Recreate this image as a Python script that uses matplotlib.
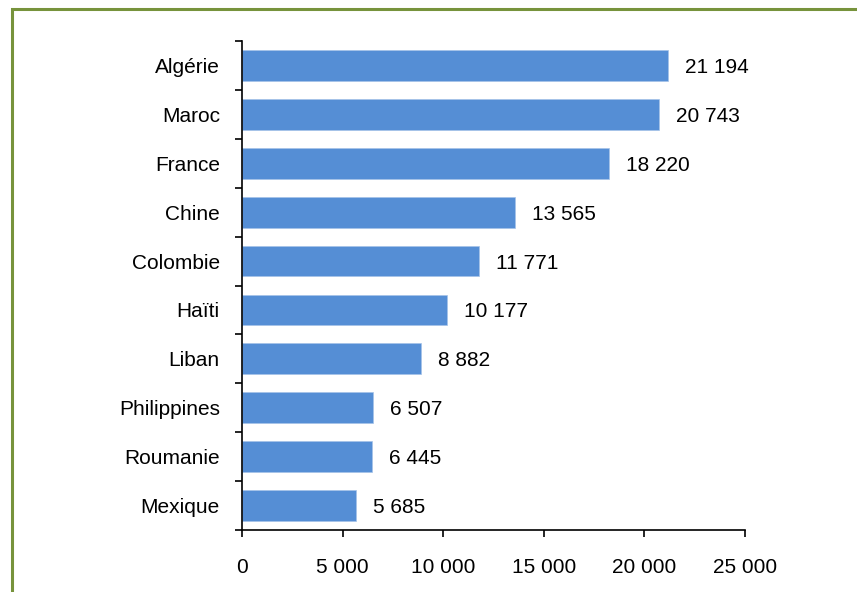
import matplotlib
matplotlib.use("Agg")
import matplotlib.pyplot as plt
from matplotlib.patches import Rectangle
import numpy as np

countries = ["Algérie", "Maroc", "France", "Chine", "Colombie", "Haïti",
             "Liban", "Philippines", "Roumanie", "Mexique"]
values = [21194, 20743, 18220, 13565, 11771, 10177, 8882, 6507, 6445, 5685]
xticks = [0, 5000, 10000, 15000, 20000, 25000]

def fmt(v):
    return f"{v:,}".replace(",", " ")

FS = 15
plt.rcParams['font.family'] = ['Liberation Sans', 'DejaVu Sans']
fig = plt.figure(figsize=(8.57, 5.92), dpi=100)
W, H = 857, 592
ax = fig.add_axes([242 / W, 1 - 530 / H, (745 - 242) / W, (530 - 41) / H])

# border
fig.patches.append(Rectangle((12 / W, -0.1), 1.2, (1 - 9 / H) + 0.1, transform=fig.transFigure,
                             fill=False, edgecolor='#77933C', linewidth=2.2, clip_on=False))

n = len(countries)
pos = np.arange(n)
ax.barh(pos, values, height=0.63, color='#558ED5', edgecolor='#A6C3E8', linewidth=0.5)
ax.set_xlim(0, 25000)
ax.set_ylim(n - 0.5, -0.5)

for p, v in zip(pos, values):
    ax.annotate(fmt(v), (v, p), xytext=(17, -2), textcoords='offset pixels',
                va='center', ha='left', fontsize=FS, color='black')

ax.set_yticks(pos)
ax.set_yticklabels(countries, fontsize=FS)
ax.tick_params(axis='y', which='major', length=0, pad=16)
ax.set_yticks(np.arange(-0.5, n, 1.0), minor=True)
ax.tick_params(axis='y', which='minor', length=5, width=1.2, direction='out')

ax.set_xticks(xticks)
ax.set_xticklabels([fmt(t) for t in xticks], fontsize=FS)
ax.tick_params(axis='x', length=5, width=1.2, direction='out', pad=15)

for s in ['top', 'right']:
    ax.spines[s].set_visible(False)
for s in ['left', 'bottom']:
    ax.spines[s].set_linewidth(1.2)

fig.savefig("out.png", dpi=100)
